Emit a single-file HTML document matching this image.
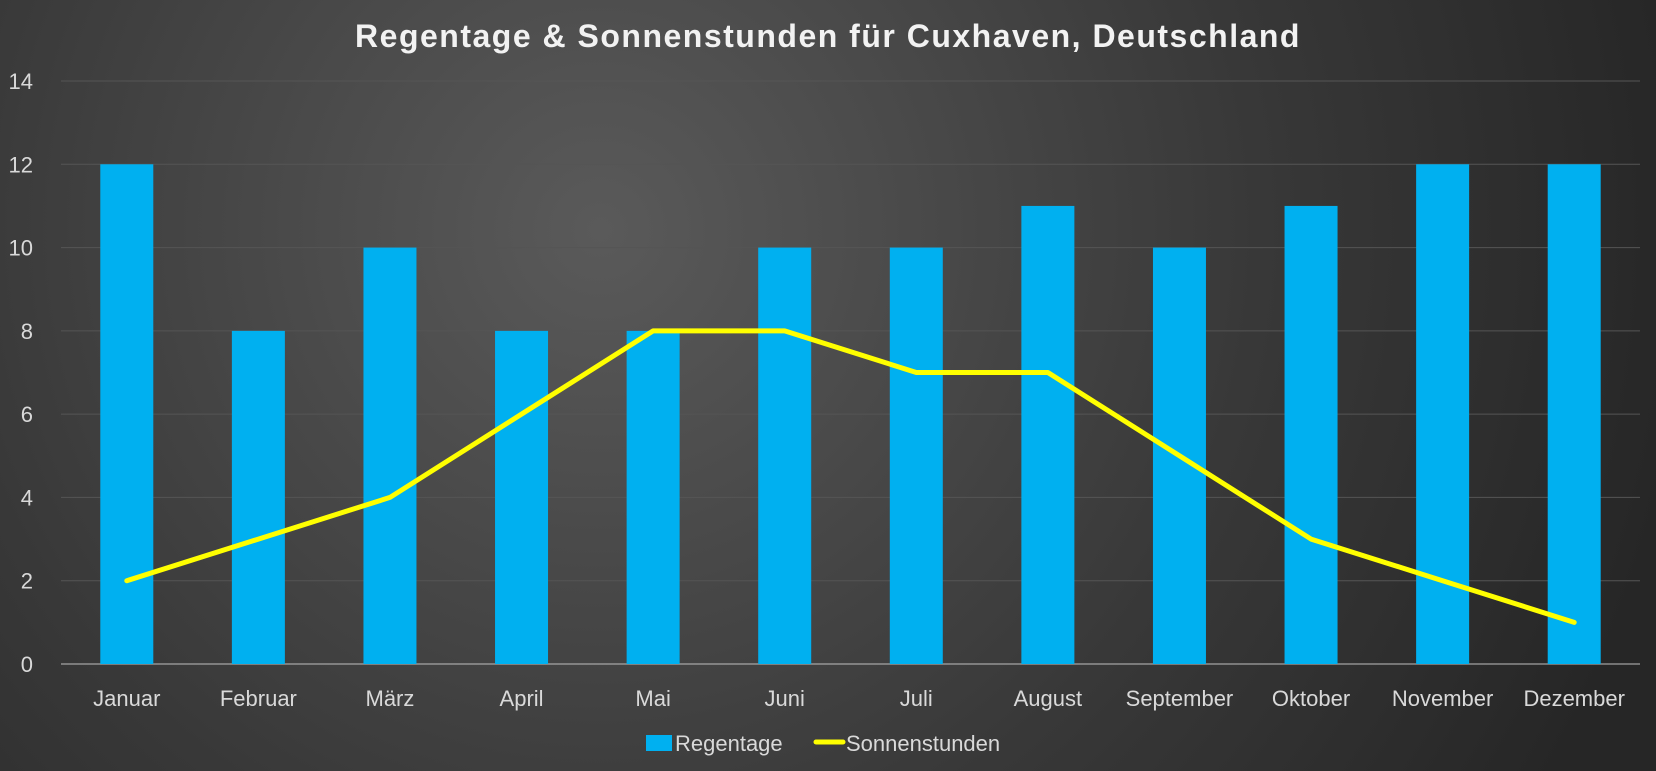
<!DOCTYPE html>
<html><head><meta charset="utf-8"><style>
html,body{margin:0;padding:0;width:1656px;height:771px;overflow:hidden;background:#333}
svg{display:block}
text{font-family:"Liberation Sans",sans-serif}
</style></head><body>
<svg id="chart" width="1656" height="771">
<defs><radialGradient id="bg" cx="600" cy="230" r="1100" gradientUnits="userSpaceOnUse">
<stop offset="0" stop-color="#5a5a5a"/><stop offset="0.6" stop-color="#383838"/><stop offset="1" stop-color="#262626"/></radialGradient></defs>
<rect width="1656" height="771" fill="url(#bg)"/>
<text x="828" y="47" text-anchor="middle" font-size="32" font-weight="bold" letter-spacing="1.5" fill="#f2f2f2">Regentage &amp; Sonnenstunden für Cuxhaven, Deutschland</text>
<g id="grid"></g><g id="bars"></g><g id="line"></g><g id="labels"></g>
<g>
<rect x="646" y="735" width="26" height="16" fill="#00b0f0"/>
<text x="675" y="751" font-size="22" fill="#d9d9d9">Regentage</text>
<line x1="816" y1="742" x2="843" y2="742" stroke="#ffff00" stroke-width="5" stroke-linecap="round"/>
<text x="846" y="751" font-size="22" fill="#d9d9d9">Sonnenstunden</text>
</g>
</svg>
<script>
const categories=["Januar","Februar","März","April","Mai","Juni","Juli","August","September","Oktober","November","Dezember"];
const regentage=[12,8,10,8,8,10,10,11,10,11,12,12];
const sonnenstunden=[2,3,4,6,8,8,7,7,5,3,2,1];
const yTicks=[0,2,4,6,8,10,12,14];
const NS="http://www.w3.org/2000/svg";
const x0=61,x1=1640,y0=664,yTop=81,yMax=14;
const step=(x1-x0)/12;
const xC=i=>x0+step*(i+0.5);
const yS=v=>y0-(v/yMax)*(y0-yTop);
function mk(tag,attrs,parent){const e=document.createElementNS(NS,tag);for(const k in attrs)e.setAttribute(k,attrs[k]);document.getElementById(parent).appendChild(e);return e;}
yTicks.forEach(t=>{
  const l=mk('line',{x1:x0,x2:x1,y1:yS(t),y2:yS(t),stroke:t===0?'#bfbfbf':'#555','stroke-width':1},'grid');
  
  
  const tx=mk('text',{x:33,y:yS(t)+8,'text-anchor':'end','font-size':22,fill:'#d9d9d9'},'grid');
  tx.textContent=t;
  
  
});
const bw=53;
regentage.forEach((v,i)=>{
  const r=mk('rect',{x:xC(i)-bw/2,y:yS(v),width:bw,height:y0-yS(v),fill:'#00b0f0'},'bars');
  
  
  const tx=mk('text',{x:xC(i),y:706,'text-anchor':'middle','font-size':22,fill:'#d9d9d9'},'labels');
  tx.textContent=categories[i];
  
  
});
const pts=sonnenstunden.map((v,i)=>xC(i)+','+yS(v)).join(' ');
const pl=mk('polyline',{points:pts,fill:'none',stroke:'#ffff00','stroke-width':5,'stroke-linejoin':'round','stroke-linecap':'round'},'line');


</script>
</body></html>
